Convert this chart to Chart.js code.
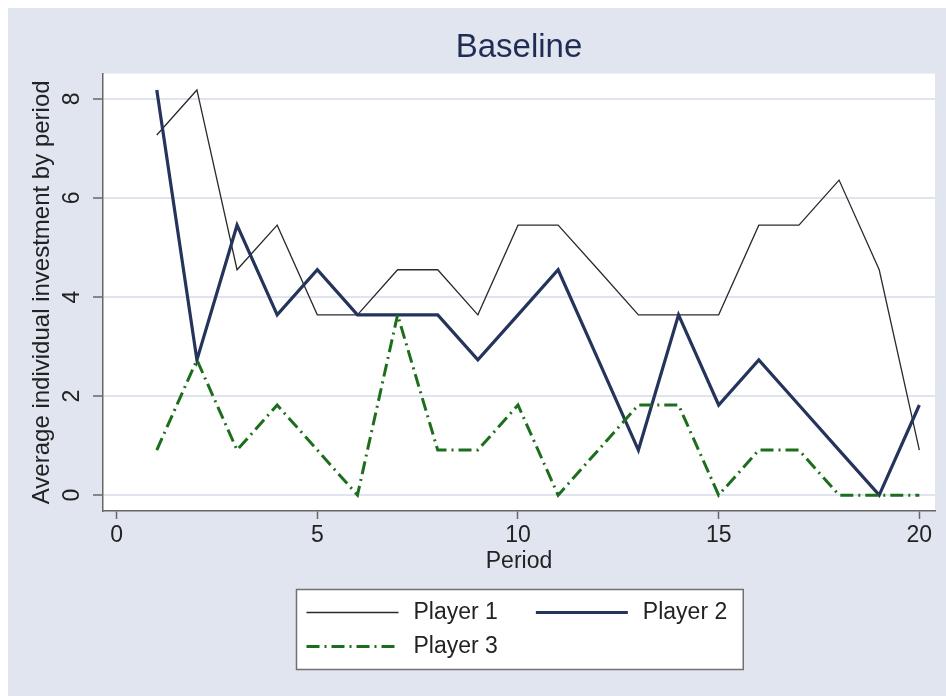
<!DOCTYPE html>
<html>
<head>
<meta charset="utf-8">
<title>Baseline</title>
<script src="https://cdn.jsdelivr.net/npm/chart.js@4.4.1/dist/chart.umd.min.js"></script>
<style>
  html, body { margin: 0; padding: 0; background: #ffffff; }
  body { width: 946px; height: 696px; overflow: hidden; position: relative; }
  #frame { position: absolute; left: 8px; top: 8px; width: 938px; height: 688px; background: #e1e5f0; }
  canvas { display: block; }
</style>
</head>
<body>
<div id="frame"><canvas id="chart" width="938" height="688"></canvas></div>
<script>
// Average individual investment per period, baseline treatment
const periods = [1, 2, 3, 4, 5, 6, 7, 8, 9, 10, 11, 12, 13, 14, 15, 16, 17, 18, 19, 20];
const player1 = [7.27, 8.18, 4.55, 5.45, 3.64, 3.64, 4.55, 4.55, 3.64, 5.45, 5.45, 4.55, 3.64, 3.64, 3.64, 5.45, 5.45, 6.36, 4.55, 0.91];
const player2 = [8.18, 2.73, 5.45, 3.64, 4.55, 3.64, 3.64, 3.64, 2.73, 3.64, 4.55, 2.73, 0.91, 3.64, 1.82, 2.73, 1.82, 0.91, 0.00, 1.82];
const player3 = [0.91, 2.73, 0.91, 1.82, 0.91, 0.00, 3.64, 0.91, 0.91, 1.82, 0.00, 0.91, 1.82, 1.82, 0.00, 0.91, 0.91, 0.00, 0.00, 0.00];
const seriesNames = ['Player 1', 'Player 2', 'Player 3'];
const xTicks = [0, 5, 10, 15, 20];
const yTicks = [0, 2, 4, 6, 8];

const FONT = "'Liberation Sans', Arial, Helvetica, sans-serif";
Chart.defaults.font.family = FONT;
Chart.defaults.color = '#222222';

const toPoints = (vals) => periods.map((p, i) => ({ x: p, y: vals[i] }));

// white plot region behind the grid
const plotBackground = {
  id: 'plotBackground',
  beforeDraw(chart) {
    const { ctx, chartArea: a } = chart;
    ctx.save();
    ctx.fillStyle = '#ffffff';
    ctx.fillRect(a.left, a.top, a.right - a.left, a.bottom - a.top);
    ctx.restore();
  }
};

// framed two-column legend under the x axis title
const boxedLegend = {
  id: 'boxedLegend',
  afterDraw(chart, args, o) {
    const { ctx, chartArea: a } = chart;
    const ds = chart.data.datasets;
    ctx.save();
    ctx.font = o.fontSize + 'px ' + FONT;
    const textW = Math.max(...ds.map(d => ctx.measureText(d.label).width));
    const colW = o.sample + o.gap + textW;
    const rows = Math.ceil(ds.length / o.columns);
    const width = o.padLeft + o.columns * colW + (o.columns - 1) * o.colGap + o.padRight;
    const height = o.padTop * 2 + (rows - 1) * o.rowStep;
    const left = Math.round((a.left + a.right) / 2 - width / 2) + 0.5;
    const top = Math.round(a.bottom + o.offsetTop) + 0.5;
    ctx.fillStyle = '#ffffff';
    ctx.fillRect(left, top, width, height);
    ctx.strokeStyle = o.borderColor;
    ctx.lineWidth = o.borderWidth;
    ctx.strokeRect(left, top, width, height);
    ds.forEach((d, i) => {
      const col = i % o.columns;
      const row = Math.floor(i / o.columns);
      const x0 = left + o.padLeft + col * (colW + o.colGap);
      const y = top + o.padTop + row * o.rowStep;
      ctx.beginPath();
      ctx.setLineDash(d.borderDash || []);
      ctx.strokeStyle = d.borderColor;
      ctx.lineWidth = d.borderWidth;
      ctx.moveTo(x0, y);
      ctx.lineTo(x0 + o.sample, y);
      ctx.stroke();
      ctx.setLineDash([]);
      ctx.fillStyle = o.color;
      ctx.textAlign = 'left';
      ctx.textBaseline = 'middle';
      ctx.fillText(d.label, x0 + o.sample + o.gap, y);
    });
    ctx.restore();
  }
};

new Chart(document.getElementById('chart'), {
  type: 'line',
  data: {
    datasets: [
      { label: seriesNames[0], data: toPoints(player1), borderColor: '#2b2b2b', borderWidth: 1.3, order: 3 },
      { label: seriesNames[1], data: toPoints(player2), borderColor: '#25345b', borderWidth: 3.2, order: 2 },
      { label: seriesNames[2], data: toPoints(player3), borderColor: '#1c6e1c', borderWidth: 3, borderDash: [13, 5, 2, 5], order: 1 }
    ]
  },
  options: {
    responsive: false,
    animation: false,
    events: [],
    devicePixelRatio: 1,
    elements: {
      point: { radius: 0 },
      line: { tension: 0, fill: false, borderJoinStyle: 'miter', borderCapStyle: 'butt' }
    },
    layout: { padding: { left: 0, right: 11, top: 0, bottom: 115 } },
    plugins: {
      legend: { display: false },
      tooltip: { enabled: false },
      title: {
        display: true,
        fullSize: false,
        text: 'Baseline',
        color: '#1f2d55',
        font: { size: 33, weight: 'normal' },
        padding: { top: 20, bottom: 6 }
      },
      boxedLegend: {
        fontSize: 23, color: '#222222',
        sample: 92, gap: 15, colGap: 38, columns: 2,
        padLeft: 10, padRight: 16, padTop: 23, rowStep: 34,
        offsetTop: 78, borderColor: '#707070', borderWidth: 1.5
      }
    },
    scales: {
      x: {
        type: 'linear',
        min: -0.34,
        max: 20.39,
        afterBuildTicks: (s) => { s.ticks = xTicks.map(v => ({ value: v })); },
        afterFit: (s) => { s.height = 70; },
        grid: { display: true, drawOnChartArea: false, drawTicks: true, tickLength: 8, tickColor: '#666666', tickWidth: 1.5 },
        border: { display: true, color: '#666666', width: 1.5 },
        ticks: { padding: 3, color: '#222222', font: { size: 23 }, maxRotation: 0, autoSkip: false },
        title: { display: true, text: 'Period', color: '#222222', font: { size: 23 }, padding: { top: 0, bottom: 6 } }
      },
      y: {
        type: 'linear',
        min: -0.32,
        max: 8.51,
        afterBuildTicks: (s) => { s.ticks = yTicks.map(v => ({ value: v })); },
        afterFit: (s) => { s.width = 95; },
        grid: { color: '#e0e4ee', lineWidth: 2, tickLength: 10, tickColor: '#666666', tickWidth: 1.5 },
        border: { display: true, color: '#666666', width: 1.5 },
        ticks: { minRotation: 90, maxRotation: 90, crossAlign: 'center', padding: 14, color: '#222222', font: { size: 23 }, autoSkip: false },
        title: { display: true, text: 'Average individual investment by period', color: '#222222', font: { size: 24 }, padding: { top: 20, bottom: 0 } }
      }
    }
  },
  plugins: [plotBackground, boxedLegend]
});
</script>
</body>
</html>
